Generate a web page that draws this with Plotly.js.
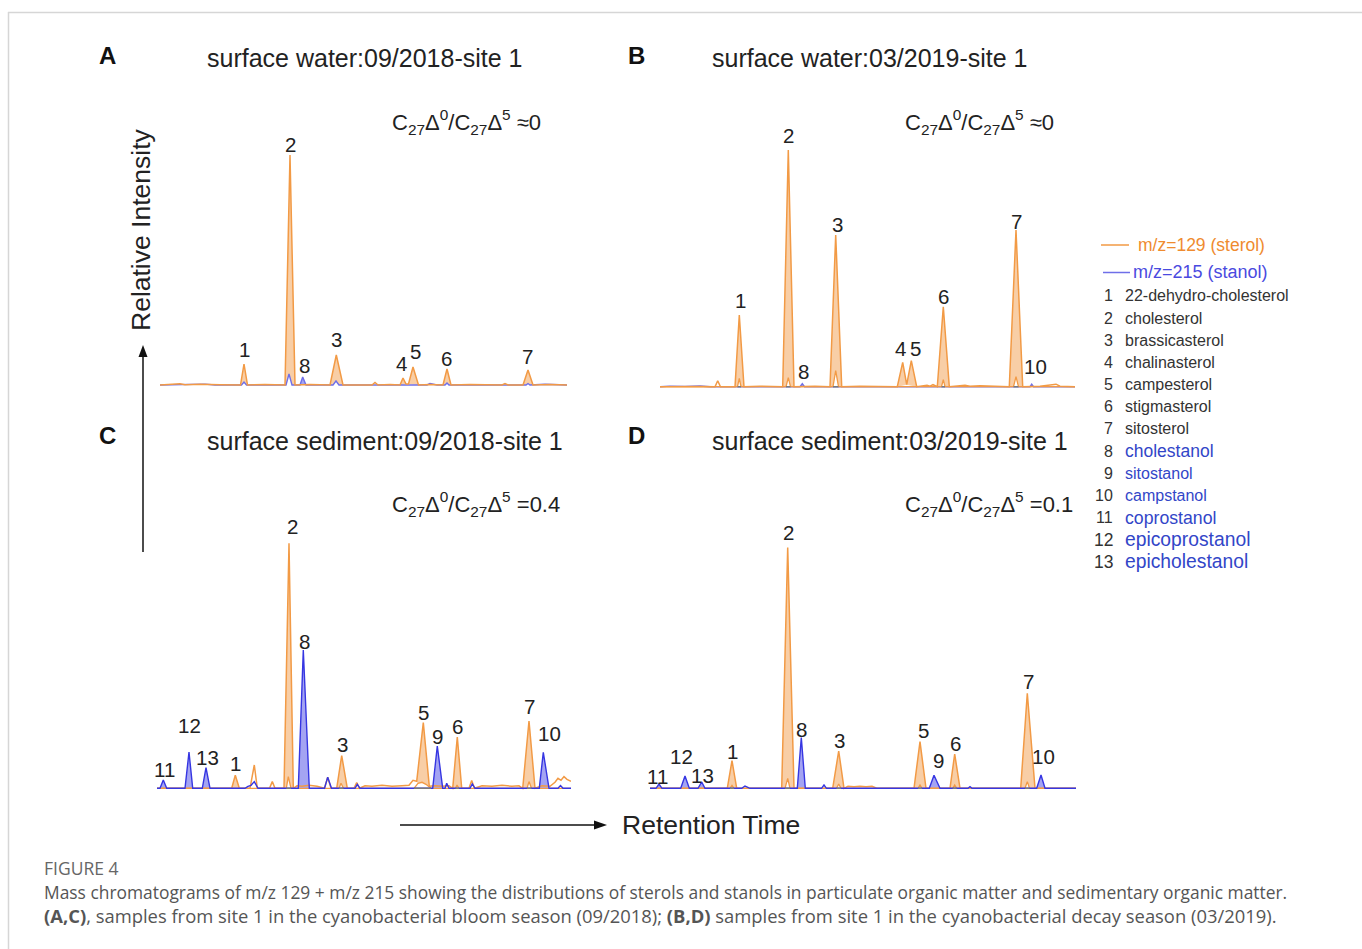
<!DOCTYPE html>
<html><head><meta charset="utf-8">
<script src="https://cdn.plot.ly/plotly-3.0.1.min.js"></script>
<style>html,body{margin:0;padding:0;background:#fff;} #chart{width:1362px;height:949px;}</style>
</head><body><div id="chart"></div>
<script>
// ---------------- DATA (retention time in min, intensity in arbitrary counts) ----------------
// Panel A : surface water 09/2018
const A_sterol_t = [0, 1.5, 2.0, 2.5, 4.0, 6.0, 8.05, 8.4, 8.75, 10.5, 12.5, 13.0, 13.5, 15.0, 17.0, 17.63, 18.3, 21.2, 21.5, 21.8, 23.0, 24.0, 24.3, 24.6, 24.85, 25.3, 25.85, 27.0, 28.3, 28.7, 29.1, 31.0, 34.2, 34.5, 34.8, 36.3, 36.8, 37.3, 39.0, 40.7];
const A_sterol_i = [0, 0.5, 1.2, 0.3, 0.8, 0.3, 0, 21, 0, 0.6, 0, 230, 0, 0.5, 0, 30, 0, 0, 2.5, 0, 0.5, 0, 7, 1, 1, 18, 0, 0.5, 0, 16, 0, 0.4, 0, 1.5, 0, 0, 15, 0, 0.5, 0];
const A_stanol_t = [0, 1.8, 2.3, 3.0, 4.5, 5.5, 8.15, 8.4, 8.65, 12.6, 12.9, 13.2, 14.0, 14.27, 14.6, 17.3, 17.6, 17.9, 26.7, 27.0, 27.3, 27.7, 28.5, 28.7, 28.9, 36.6, 36.8, 37.0, 38.5, 39.5, 40.7];
const A_stanol_i = [0, 0.3, 0.9, 0.5, 0.9, 0, 0, 3, 0, 0, 11, 0, 0, 8, 0, 0, 4, 0, 0, 1.5, 0.8, 0, 0, 2, 0, 0, 1.5, 0, 0.8, 0.6, 0];
const A_sterolPeaks = [8.4, 13.0, 17.63, 24.3, 25.3, 28.7, 36.8];
const A_stanolPeaks = [14.27];
const A_labels = ['1', '2', '8', '3', '4', '5', '6', '7'];
const A_label_t = [8.4, 13.0, 14.4, 17.67, 24.17, 25.5, 28.6, 36.77];
const A_label_i = [35.7, 241, 20, 46, 21.7, 33.3, 26.7, 28.3];

// Panel B : surface water 03/2019
const B_sterol_t = [0, 2.0, 4.0, 5.5, 5.77, 6.05, 7.5, 7.93, 8.4, 10.0, 12.27, 12.83, 13.4, 15.5, 17.0, 17.57, 18.17, 20.0, 22.0, 23.73, 24.27, 24.67, 25.13, 25.67, 26.7, 27.0, 27.3, 27.73, 28.33, 28.93, 30.5, 31.0, 32.0, 34.93, 35.6, 36.27, 38.0, 39.6, 40.0, 41.5];
const B_sterol_i = [0, 0.5, 0.3, 0, 6, 0, 0, 71.7, 0, 0.5, 0, 236.7, 0, 0.5, 0, 151.7, 0, 0.5, 0.3, 0, 24.3, 2, 26, 0, 1.5, 0.5, 2, 0, 80, 0, 1.5, 0.5, 1, 0, 156.7, 0, 0.5, 2.5, 0.5, 0];
const B_inner_t = [0, 7.75, 7.93, 8.1, 12.6, 12.83, 13.05, 17.3, 17.57, 17.85, 28.15, 28.33, 28.5, 35.35, 35.6, 35.85, 41.5];
const B_inner_i = [0, 0, 8.3, 0, 0, 9, 0, 0, 16, 0, 0, 7, 0, 0, 10, 0, 0];
const B_stanol_t = [0, 1.0, 2.5, 4.0, 5.0, 14.0, 14.23, 14.45, 37.0, 37.17, 37.35, 41.5];
const B_stanol_i = [0, 0.6, 0.3, 0.7, 0, 0, 3, 0, 0, 2.5, 0, 0];
const B_sterolPeaks = [7.93, 12.83, 17.57, 24.27, 25.13, 28.33, 35.6];
const B_stanolPeaks = [14.23, 37.17];
const B_labels = ['1', '2', '8', '3', '4', '5', '6', '7', '10'];
const B_label_t = [8.07, 12.83, 14.33, 17.73, 24.0, 25.5, 28.33, 35.67, 37.5];
const B_label_i = [86.7, 251.7, 15, 162.7, 38.4, 38.4, 90.7, 165, 20.7];

// Panel C : surface sediment 09/2018
const C_sterol_t = [0, 2.0, 5.0, 7.47, 7.83, 8.23, 9.3, 9.73, 10.03, 11.25, 11.53, 11.8, 12.7, 13.2, 13.63, 14.0, 14.5, 15.2, 16.0, 16.75, 17.07, 17.4, 17.97, 18.47, 19.03, 19.7, 19.97, 20.25, 20.8, 21.5, 22.5, 23.5, 24.5, 25.2, 25.6, 25.97, 26.63, 27.23, 27.8, 28.5, 29.2, 29.57, 30.03, 30.47, 31.2, 31.47, 31.75, 32.5, 33.5, 34.5, 35.5, 36.2, 36.57, 37.2, 37.8, 38.5, 39.3, 39.8, 40.1, 40.4, 40.7, 41.0, 41.4];
const C_sterol_i = [0, 0, 0.5, 0, 13, 0, 0, 23.3, 0, 0, 6.7, 0, 0, 245, 0, 2.5, 2, 3, 2, 0, 11, 0, 0, 32.7, 0, 0, 5.7, 0, 2.5, 2, 3, 2, 2.5, 3, 8, 7, 65.7, 2, 2.5, 2, 2.5, 0, 51.3, 0, 0, 7.7, 0, 2.5, 2, 3, 2, 2.5, 0, 67.3, 0, 2.5, 2, 6, 10, 8, 11.7, 9, 7];
const C_inner_t = [0, 12.93, 13.13, 13.4, 18.2, 18.4, 18.65, 25.7, 26.1, 26.5, 26.9, 27.4, 29.85, 30.0, 30.2, 37.0, 37.2, 37.45, 41.4];
const C_inner_i = [0, 0, 11.7, 0, 0, 5, 0, 0, 5, 6, 4, 0, 0, 3.3, 0, 0, 6.7, 0, 0];
const C_stanol_t = [0, 0.3, 0.63, 0.97, 1.8, 2.8, 3.2, 3.57, 4.53, 4.9, 5.3, 6.5, 8.8, 9.1, 9.4, 9.73, 10.1, 14.13, 14.63, 15.23, 16.75, 17.07, 17.45, 19.8, 20.03, 20.3, 27.57, 28.03, 28.57, 28.8, 28.97, 29.2, 31.3, 31.53, 31.8, 38.23, 38.63, 39.2, 40.1, 40.35, 40.6, 41.4];
const C_stanol_i = [0, 0, 8.3, 0, 0, 0, 36.3, 0, 0, 20.7, 0, 0, 0, 2, 3, 6.7, 0, 0, 138.3, 0, 0, 11, 0, 0, 4, 0, 0, 42.3, 0, 0, 5, 0, 0, 4.3, 0, 0, 36, 0, 0, 2.7, 0, 0];
const C_sterolPeaks = [7.83, 13.2, 18.47, 26.63, 30.03, 37.2];
const C_stanolPeaks = [0.63, 3.2, 4.9, 14.63, 28.03, 38.63];
const C_labels = ['11', '12', '13', '1', '2', '8', '3', '5', '9', '6', '7', '10'];
const C_label_t = [0.7, 3.2, 5.03, 7.8, 13.53, 14.7, 18.53, 26.63, 28.03, 30.03, 37.2, 39.2];
const C_label_i = [19, 62.6, 30.6, 25, 261.6, 147.3, 44.3, 76, 52.3, 62.3, 81.6, 55];

// Panel D : surface sediment 03/2019
const D_sterol_t = [0, 7.73, 8.2, 8.67, 13.17, 13.77, 14.4, 18.27, 18.87, 19.4, 19.8, 20.4, 21.0, 21.6, 22.2, 22.67, 26.4, 27.0, 27.6, 30.0, 30.47, 31.0, 37.07, 37.73, 38.5, 42.6];
const D_sterol_i = [0, 0, 27.7, 0, 0, 240.7, 0, 0, 37.3, 0, 2, 1.5, 2, 1.5, 2, 0, 0, 46.7, 0, 0, 34.3, 0, 0, 95, 0, 0];
const D_inner_t = [0, 8.0, 8.2, 8.4, 13.5, 13.77, 14.0, 18.65, 18.87, 19.1, 26.8, 27.0, 27.2, 30.27, 30.47, 30.67, 37.5, 37.73, 37.95, 42.6];
const D_inner_i = [0, 0, 3, 0, 0, 10, 0, 0, 4.3, 0, 0, 3.3, 0, 0, 3.3, 0, 0, 6.7, 0, 0];
const D_stanol_t = [0, 0.6, 0.9, 1.2, 3.07, 3.5, 3.93, 4.8, 5.17, 5.5, 9.17, 9.5, 10.0, 14.73, 15.13, 15.53, 17.15, 17.4, 17.65, 27.93, 28.4, 29.0, 31.8, 32.0, 32.2, 38.67, 39.1, 39.5, 42.6];
const D_stanol_i = [0, 0, 4.3, 0, 0, 12.3, 0, 0, 6.3, 0, 0, 2.3, 0, 0, 50.7, 0, 0, 3.3, 0, 0, 13, 0, 0, 1.7, 0, 0, 13.3, 0, 0];
const D_sterolPeaks = [8.2, 13.77, 18.87, 27.0, 30.47, 37.73];
const D_stanolPeaks = [0.9, 3.5, 5.17, 15.13, 28.4, 39.1];
const D_labels = ['11', '12', '13', '1', '2', '8', '3', '5', '9', '6', '7', '10'];
const D_label_t = [0.73, 3.17, 5.23, 8.23, 13.83, 15.17, 18.93, 27.33, 28.83, 30.57, 37.83, 39.33];
const D_label_i = [12.3, 32.3, 13.3, 36.6, 255.6, 59, 48.3, 58.3, 28.3, 45, 107.3, 31.6];

// Panel texts
const panelLetters = ['A', 'B', 'C', 'D'];
const panelTitles = ['surface water:09/2018-site 1', 'surface water:03/2019-site 1',
  'surface sediment:09/2018-site 1', 'surface sediment:03/2019-site 1'];
const ratioValues = ['≈0', '≈0', '=0.4', '=0.1'];

// Legend
const seriesNames = ['m/z=129 (sterol)', 'm/z=215 (stanol)'];
const compoundNums = ['1', '2', '3', '4', '5', '6', '7', '8', '9', '10', '11', '12', '13'];
const compoundNames = ['22-dehydro-cholesterol', 'cholesterol', 'brassicasterol', 'chalinasterol',
  'campesterol', 'stigmasterol', 'sitosterol', 'cholestanol', 'sitostanol', 'campstanol',
  'coprostanol', 'epicoprostanol', 'epicholestanol'];

// ---------------- DRAWING ----------------
const W = 1362, H = 949;
const fx = x => x / W, fy = y => 1 - y / H;
const FONT = 'Liberation Sans, Arial, Helvetica, sans-serif';
const ORANGE = '#F29A45', ORANGE_FILL = '#F8CEA6';
const BLUE_LIGHT = '#6F6FE8', BLUE_DARK = '#3636E2', BLUE_FILL = '#A4A4F2';

const panels = [
  {x0: 160, x1: 567, base: 385, st: [A_sterol_t, A_sterol_i], inner: [A_stanol_t, A_stanol_i], sn: [A_stanol_t, A_stanol_i],
   sp: A_sterolPeaks, np: A_stanolPeaks, lab: [A_labels, A_label_t, A_label_i], blue: BLUE_LIGHT, blueTop: false, innerLine: false,
   letter: [107, 56], title: [364, 58], ratio: [390, 121]},
  {x0: 660, x1: 1075, base: 386.7, st: [B_sterol_t, B_sterol_i], inner: [B_inner_t, B_inner_i], sn: [B_stanol_t, B_stanol_i],
   sp: B_sterolPeaks, np: B_stanolPeaks, lab: [B_labels, B_label_t, B_label_i], blue: BLUE_LIGHT, blueTop: false, innerLine: true,
   letter: [636, 56], title: [869.5, 58], ratio: [903, 121]},
  {x0: 157, x1: 571, base: 788.3, st: [C_sterol_t, C_sterol_i], inner: [C_inner_t, C_inner_i], sn: [C_stanol_t, C_stanol_i],
   sp: C_sterolPeaks, np: C_stanolPeaks, lab: [C_labels, C_label_t, C_label_i], blue: BLUE_DARK, blueTop: true, innerLine: true,
   letter: [107, 436], title: [385, 441], ratio: [390, 503]},
  {x0: 650, x1: 1076, base: 788.3, st: [D_sterol_t, D_sterol_i], inner: [D_inner_t, D_inner_i], sn: [D_stanol_t, D_stanol_i],
   sp: D_sterolPeaks, np: D_stanolPeaks, lab: [D_labels, D_label_t, D_label_i], blue: BLUE_DARK, blueTop: true, innerLine: true,
   letter: [636, 436], title: [890, 441], ratio: [903, 503]}
];

function nearestIdx(t, a) {
  let k = 0;
  for (let j = 1; j < t.length; j++) if (Math.abs(t[j] - a) < Math.abs(t[k] - a)) k = j;
  return k;
}
function peakSpan(t, y, a) {
  const k = nearestIdx(t, a);
  let l = k, r = k;
  while (l > 0 && y[l - 1] < y[l]) l--;
  while (r < t.length - 1 && y[r + 1] < y[r]) r++;
  return [l, r];
}
function peakPolys(t, y, apexes, it, iy) {
  return apexes.map(a => {
    const [l, r] = peakSpan(t, y, a);
    const xs = t.slice(l, r + 1), ys = y.slice(l, r + 1);
    if (it) for (let j = it.length - 1; j >= 0; j--) if (it[j] > t[l] && it[j] < t[r]) { xs.push(it[j]); ys.push(iy[j]); }
    return {xs, ys};
  });
}

// sub/superscripts as sized spans (explicit px sizes)
const SUBS = 15.4;
const sub = s => `<span style="font-size:${SUBS}px;baseline-shift:-5px">${s}</span>`;
const sup = s => `<span style="font-size:${SUBS}px;baseline-shift:10px">${s}</span>`;
const ratioText = v => `C${sub('27')}Δ${sup('0')}/C${sub('27')}Δ${sup('5')} ${v}`;

const traces = [];
const annotations = [];
const shapes = [];
const layout = {
  width: W, height: H, margin: {l: 0, r: 0, t: 0, b: 0},
  paper_bgcolor: '#ffffff', plot_bgcolor: 'rgba(0,0,0,0)', showlegend: false,
  font: {family: FONT, color: '#222'}
};

panels.forEach((p, n) => {
  const sfx = n === 0 ? '' : String(n + 1);
  const xa = 'x' + sfx, ya = 'y' + sfx;
  layout['xaxis' + sfx] = {domain: [fx(p.x0), fx(p.x1)], range: [0, (p.x1 - p.x0) / 10], visible: false, fixedrange: true, anchor: ya};
  layout['yaxis' + sfx] = {domain: [fy(p.base + 6), fy(p.base - 272)], range: [-6, 272], visible: false, fixedrange: true, anchor: xa};
  const base = {type: 'scatter', mode: 'lines', xaxis: xa, yaxis: ya, hoverinfo: 'skip'};
  // fills
  peakPolys(p.st[0], p.st[1], p.sp, p.inner[0], p.inner[1]).forEach(pg => {
    traces.push(Object.assign({}, base, {x: pg.xs, y: pg.ys, fill: 'toself', fillcolor: ORANGE_FILL, line: {width: 0, color: ORANGE_FILL}}));
  });
  peakPolys(p.sn[0], p.sn[1], p.np, null, null).forEach(pg => {
    traces.push(Object.assign({}, base, {x: pg.xs, y: pg.ys, fill: 'toself', fillcolor: BLUE_FILL, line: {width: 0, color: BLUE_FILL}}));
  });
  const blueLine = Object.assign({}, base, {x: p.sn[0], y: p.sn[1], line: {color: p.blue, width: 1.4}});
  const orangeLine = Object.assign({}, base, {x: p.st[0], y: p.st[1], line: {color: ORANGE, width: 1.5}});
  const innerLine = Object.assign({}, base, {x: p.inner[0], y: p.inner[1], line: {color: ORANGE, width: 1.3}});
  if (!p.blueTop) traces.push(blueLine);
  if (p.innerLine) traces.push(innerLine);
  traces.push(orangeLine);
  if (p.blueTop) traces.push(blueLine);
  // grey integration baselines under the inner peaks
  if (p.innerLine) {
    const gx = [], gy = [];
    p.sp.forEach(a => {
      const k = nearestIdx(p.inner[0], a);
      if (p.inner[1][k] <= 0) return;
      const [l, r] = peakSpan(p.inner[0], p.inner[1], a);
      gx.push(p.inner[0][l], p.inner[0][r], null); gy.push(0, 0, null);
    });
    traces.push(Object.assign({}, base, {x: gx, y: gy, line: {color: '#7a7a7a', width: 1.6}}));
  }
  // peak labels
  p.lab[0].forEach((txt, j) => {
    annotations.push({xref: xa, yref: ya, x: p.lab[1][j], y: p.lab[2][j], text: txt, showarrow: false,
      xanchor: 'center', yanchor: 'middle', font: {family: FONT, size: 20.5, color: '#222'}});
  });
  // letters, titles, ratios
  annotations.push({xref: 'paper', yref: 'paper', x: fx(p.letter[0]), y: fy(p.letter[1]), text: '<b>' + panelLetters[n] + '</b>',
    showarrow: false, xanchor: 'center', yanchor: 'middle', font: {family: FONT, size: 24, color: '#111'}});
  annotations.push({xref: 'paper', yref: 'paper', x: fx(p.title[0]), y: fy(p.title[1]), text: panelTitles[n],
    showarrow: false, xanchor: 'center', yanchor: 'middle', font: {family: FONT, size: 25, color: '#222'}});
  annotations.push({xref: 'paper', yref: 'paper', x: fx(p.ratio[0]), y: fy(p.ratio[1] + 1), text: ratioText(ratioValues[n]),
    showarrow: false, xanchor: 'left', yanchor: 'middle', font: {family: FONT, size: 22, color: '#222'}});
});

// axis arrows & labels
annotations.push({xref: 'paper', yref: 'paper', x: fx(141), y: fy(230), text: 'Relative Intensity', textangle: -90,
  showarrow: false, xanchor: 'center', yanchor: 'middle', font: {family: FONT, size: 26.5, color: '#222'}});
annotations.push({xref: 'paper', yref: 'paper', x: fx(620), y: fy(825), text: 'Retention Time',
  showarrow: false, xanchor: 'left', yanchor: 'middle', font: {family: FONT, size: 26.5, color: '#222'}});
shapes.push({type: 'line', xref: 'paper', yref: 'paper', x0: fx(143), x1: fx(143), y0: fy(552), y1: fy(356), line: {color: '#111', width: 1.5}});
shapes.push({type: 'path', xref: 'paper', yref: 'paper',
  path: `M ${fx(143)} ${fy(345)} L ${fx(138.5)} ${fy(357)} L ${fx(147.5)} ${fy(357)} Z`, fillcolor: '#111', line: {width: 0}});
shapes.push({type: 'line', xref: 'paper', yref: 'paper', x0: fx(400), x1: fx(597), y0: fy(825), y1: fy(825), line: {color: '#111', width: 1.5}});
shapes.push({type: 'path', xref: 'paper', yref: 'paper',
  path: `M ${fx(607)} ${fy(825)} L ${fx(594)} ${fy(820.5)} L ${fx(594)} ${fy(829.5)} Z`, fillcolor: '#111', line: {width: 0}});

// page border
shapes.push({type: 'line', xref: 'paper', yref: 'paper', x0: fx(8), x1: 1, y0: fy(12.5), y1: fy(12.5), line: {color: '#D6D6D6', width: 1.5}});
shapes.push({type: 'line', xref: 'paper', yref: 'paper', x0: fx(8.5), x1: fx(8.5), y0: fy(12), y1: 0, line: {color: '#D6D6D6', width: 1.5}});

// legend
shapes.push({type: 'line', xref: 'paper', yref: 'paper', x0: fx(1101), x1: fx(1129), y0: fy(245), y1: fy(245), line: {color: ORANGE, width: 1.5}});
shapes.push({type: 'line', xref: 'paper', yref: 'paper', x0: fx(1103), x1: fx(1130), y0: fy(272.5), y1: fy(272.5), line: {color: BLUE_LIGHT, width: 1.5}});
annotations.push({xref: 'paper', yref: 'paper', x: fx(1136), y: fy(245), text: seriesNames[0], showarrow: false,
  xanchor: 'left', yanchor: 'middle', font: {family: FONT, size: 17.5, color: '#EF8B2F'}});
annotations.push({xref: 'paper', yref: 'paper', x: fx(1131), y: fy(272.5), text: seriesNames[1], showarrow: false,
  xanchor: 'left', yanchor: 'middle', font: {family: FONT, size: 18, color: '#4A4AE0'}});
const nameSizes = [16, 16, 16, 16, 16, 16, 16, 17.5, 16, 16, 17.7, 19.3, 19.3];
compoundNums.forEach((num, j) => {
  const yy = 296 + j * 22.15;
  const blue = j >= 7;
  annotations.push({xref: 'paper', yref: 'paper', x: fx(1115), y: fy(yy), text: num, showarrow: false,
    xanchor: 'right', yanchor: 'middle', font: {family: FONT, size: j >= 11 ? 17.5 : 16, color: '#333'}});
  annotations.push({xref: 'paper', yref: 'paper', x: fx(1123), y: fy(yy), text: compoundNames[j], showarrow: false,
    xanchor: 'left', yanchor: 'middle', font: {family: FONT, size: nameSizes[j], color: blue ? '#3246C8' : '#333'}});
});

// caption
const CAP = 'Open Sans, Noto Sans, sans-serif';
annotations.push({xref: 'paper', yref: 'paper', x: fx(42), y: fy(868), text: 'FIGURE 4', showarrow: false,
  xanchor: 'left', yanchor: 'middle', font: {family: CAP, size: 17.5, color: '#666'}});
annotations.push({xref: 'paper', yref: 'paper', x: fx(42), y: fy(892), showarrow: false, xanchor: 'left', yanchor: 'middle',
  text: 'Mass chromatograms of m/z 129 + m/z 215 showing the distributions of sterols and stanols in particulate organic matter and sedimentary organic matter.',
  font: {family: CAP, size: 17.4, color: '#555'}});
annotations.push({xref: 'paper', yref: 'paper', x: fx(42), y: fy(915.5), showarrow: false, xanchor: 'left', yanchor: 'middle',
  text: '<span style="font-weight:bold">(A,C)</span>, samples from site 1 in the cyanobacterial bloom season (09/2018); <span style="font-weight:bold">(B,D)</span> samples from site 1 in the cyanobacterial decay season (03/2019).',
  font: {family: CAP, size: 18.4, color: '#555'}});

layout.annotations = annotations;
layout.shapes = shapes;
Plotly.newPlot('chart', traces, layout, {staticPlot: true, displayModeBar: false});
</script>
</body></html>
